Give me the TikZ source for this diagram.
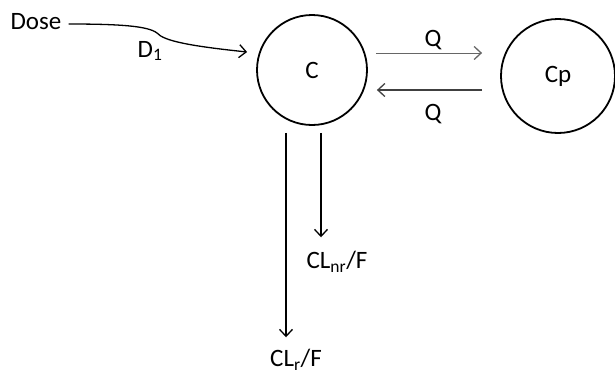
\documentclass[tikz,border=0pt]{standalone}
\usepackage{fontspec}
\setmainfont{Carlito}
\usepackage{xcolor}
\usepackage{tikz}
\usetikzlibrary{arrows.meta, positioning, calc}

\begin{document}
\begin{tikzpicture}[x=1pt, y=-1pt,
    comp/.style={draw, circle, line width=1.8pt, minimum size=110pt, inner sep=0pt},
    lbl/.style={inner sep=0pt, font=\fontsize{25}{29}\selectfont},
    flow/.style={-{Straight Barb[length=7pt, width=13pt, line width=1.3pt]}, line width=1.3pt}]
  \useasboundingbox (0,0) rectangle (615,376);

  % Compartments
  \node[comp, lbl] (C) at (312,70) {C};
  \node[comp, lbl, minimum size=114pt] (Cp) at (558,76) {Cp};

  % Labels
  \node[lbl] (dose) at (36,22) {Dose};
  \node[lbl] (d1) at (150,51) {D\textsubscript{1}};
  \node[lbl] (qup) at (433,40) {Q};
  \node[lbl] (qdown) at (433,114) {Q};
  \node[lbl] (clnr) at (337,262) {CL\textsubscript{nr}/F};
  \node[lbl] (clr) at (296,360) {CL\textsubscript{r}/F};

  % Dose input
  \draw[flow] ([xshift=7pt,yshift=-2pt]dose.east) .. controls (120,24) and (148,26) .. (157,33)
    .. controls (164,41) and (190,46) .. ([xshift=-9pt,yshift=18pt]C.west);

  % Exchange
  \draw[flow, gray!80!black, line width=0.9pt] ([shift={(8,-17)}]C.east) -- ([shift={(-18,-23)}]Cp.west);
  \draw[flow, black!75] ([shift={(-18,14)}]Cp.west) -- ([shift={(9,20)}]C.east);

  % Elimination
  \draw[flow] ([shift={(9,7)}]C.south) coordinate (n0) -- ($(n0 |- clnr.north)+(0,-14)$);
  \draw[flow] ([shift={(-26,7)}]C.south) coordinate (r0) -- ($(r0 |- clr.north)+(0,-12)$);
\end{tikzpicture}
\end{document}
